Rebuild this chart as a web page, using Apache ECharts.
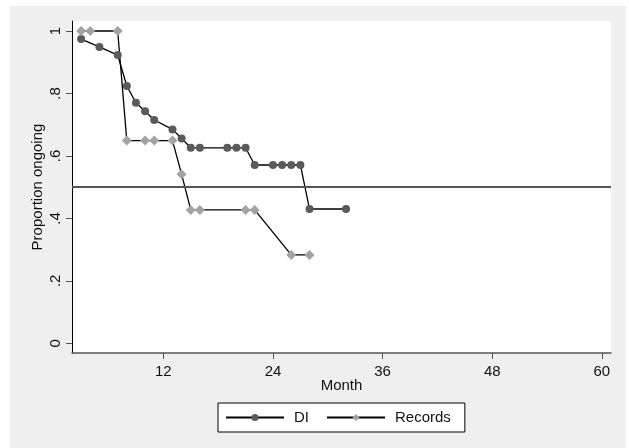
<!DOCTYPE html>
<html>
<head>
<meta charset="utf-8">
<script src="https://cdn.jsdelivr.net/npm/echarts@6/dist/echarts.min.js"></script>
<style>
html,body{margin:0;padding:0;background:#ffffff;}
#chart{width:629px;height:448px;}
</style>
</head>
<body>
<div id="chart"></div>
<script>
// Data
const diMonths = [3, 5, 7, 8, 9, 10, 11, 13, 14, 15, 16, 19, 20, 21, 22, 24, 25, 26, 27, 28, 32];
const diValues = [0.974, 0.949, 0.923, 0.824, 0.770, 0.743, 0.715, 0.685, 0.656, 0.626, 0.626, 0.626, 0.626, 0.626, 0.571, 0.571, 0.571, 0.571, 0.571, 0.430, 0.430];
const recMonths = [3, 4, 7, 8, 10, 11, 13, 14, 15, 16, 21, 22, 26, 28];
const recValues = [1, 1, 1, 0.649, 0.649, 0.649, 0.649, 0.541, 0.427, 0.427, 0.427, 0.427, 0.283, 0.283];
const xTicks = [12, 24, 36, 48, 60];
const yTicks = [0, 0.2, 0.4, 0.6, 0.8, 1];
const yTickLabels = ['0', '.2', '.4', '.6', '.8', '1'];
const refLine = 0.5;

const FONT = 'Liberation Sans, Arial, sans-serif';
const chart = echarts.init(document.getElementById('chart'), null, {renderer: 'canvas'});
const zip = (a, b) => a.map((v, i) => [v, b[i]]);

chart.setOption({
  animation: false,
  backgroundColor: '#ffffff',
  graphic: [{
    type: 'rect', z: -10, silent: true,
    shape: {x: 10, y: 6, width: 616, height: 442},
    style: {fill: '#efefef'}
  }],
  grid: {
    left: 72, right: 18, top: 21, bottom: 95,
    show: true, backgroundColor: '#ffffff', borderWidth: 0
  },
  legend: {
    left: 218, top: 403,
    orient: 'horizontal',
    itemWidth: 58, itemHeight: 9, itemGap: 17,
    padding: [7, 14, 7, 7],
    backgroundColor: '#ffffff',
    borderColor: '#000000', borderWidth: 1, borderRadius: 0,
    textStyle: {fontFamily: FONT, fontSize: 15, color: '#111', padding: [0, 0, 0, 5]},
    data: ['DI', 'Records']
  },
  xAxis: {
    type: 'value', min: 2, max: 61,
    name: 'Month', nameLocation: 'middle', nameGap: 25, nameMoveOverlap: false,
    nameTextStyle: {fontFamily: FONT, fontSize: 15, color: '#111'},
    axisLine: {show: true, onZero: false, lineStyle: {color: '#555', width: 1.5}},
    axisTick: {show: true, length: 6, customValues: xTicks, lineStyle: {color: '#555', width: 1}},
    axisLabel: {customValues: xTicks, fontFamily: FONT, fontSize: 15, color: '#111', margin: 11},
    splitLine: {show: false}
  },
  yAxis: {
    type: 'value', min: -0.031, max: 1.032,
    name: 'Proportion ongoing', nameLocation: 'middle', nameGap: 27, nameRotate: 90, nameMoveOverlap: false,
    nameTextStyle: {fontFamily: FONT, fontSize: 15, color: '#111'},
    axisLine: {show: true, onZero: false, lineStyle: {color: '#000', width: 1}},
    axisTick: {show: true, length: 6, customValues: yTicks, lineStyle: {color: '#555', width: 1}},
    axisLabel: {
      customValues: yTicks, rotate: 90, fontFamily: FONT, fontSize: 15, color: '#111', margin: 9,
      formatter: function (v) {
        const i = yTicks.findIndex(t => Math.abs(t - v) < 1e-6);
        return i >= 0 ? yTickLabels[i] : '';
      }
    },
    splitLine: {show: false}
  },
  series: [
    {
      name: 'DI', type: 'line', data: zip(diMonths, diValues),
      symbol: 'circle', symbolSize: 8, showAllSymbol: true,
      lineStyle: {color: '#000', width: 1.3},
      itemStyle: {color: '#5a5a5a', borderWidth: 0},
      emphasis: {disabled: true},
      markLine: {
        silent: true, symbol: 'none', animation: false,
        label: {show: false},
        lineStyle: {color: '#555', width: 2, type: 'solid'},
        data: [{yAxis: refLine}]
      }
    },
    {
      name: 'Records', type: 'line', data: zip(recMonths, recValues),
      symbol: 'diamond', symbolSize: 10, showAllSymbol: true,
      lineStyle: {color: '#000', width: 1.3},
      itemStyle: {color: '#a3a3a3', borderWidth: 0},
      emphasis: {disabled: true}
    }
  ]
});
</script>
</body>
</html>
